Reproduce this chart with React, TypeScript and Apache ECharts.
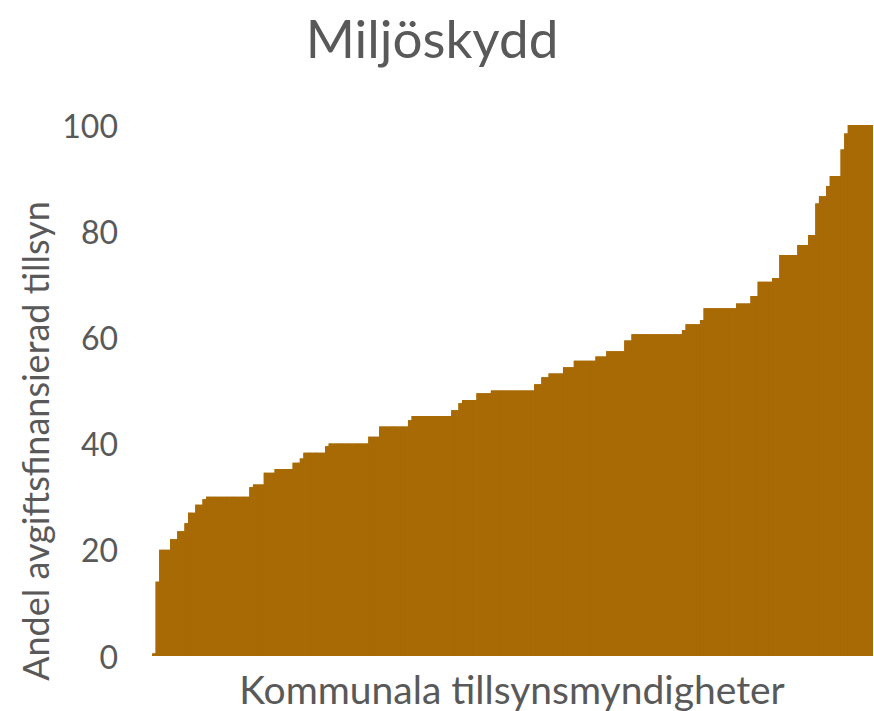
import React, { useEffect, useRef } from "react";
import * as echarts from "echarts";

const title = "Miljöskydd";
const xAxisName = "Kommunala tillsynsmyndigheter";
const yAxisName = "Andel avgiftsfinansierad tillsyn";
const yTicks = [0, 20, 40, 60, 80, 100];

// Share of fee-financed supervision per municipal authority, sorted ascending
const shares: number[] = [
  0.5, 14, 20, 20, 20, 22, 22, 23.5, 23.5, 25,
  27, 27, 28.5, 28.5, 29.5, 30, 30, 30, 30, 30,
  30, 30, 30, 30, 30, 30, 30, 31.8, 32.3, 32.3,
  32.3, 34.5, 34.5, 34.5, 35.2, 35.2, 35.2, 35.2, 35.2, 36.4,
  36.4, 37.2, 38.3, 38.3, 38.3, 38.3, 38.3, 38.3, 39.5, 40,
  40, 40, 40, 40, 40, 40, 40, 40, 40, 40,
  41.3, 41.3, 41.3, 43.2, 43.2, 43.2, 43.2, 43.2, 43.2, 43.2,
  43.2, 44.4, 45.2, 45.2, 45.2, 45.2, 45.2, 45.2, 45.2, 45.2,
  45.2, 45.2, 45.2, 46.3, 46.3, 47.6, 48.2, 48.2, 48.2, 48.2,
  49.5, 49.5, 49.5, 49.5, 50, 50, 50, 50, 50, 50,
  50, 50, 50, 50, 50, 50, 51.2, 51.2, 52.5, 52.5,
  53.2, 53.2, 53.2, 53.2, 54.4, 54.4, 54.4, 55.6, 55.6, 55.6,
  55.6, 55.6, 55.6, 56.4, 56.4, 56.4, 57.4, 57.4, 57.4, 57.4,
  57.4, 59.4, 59.4, 60.6, 60.6, 60.6, 60.6, 60.6, 60.6, 60.6,
  60.6, 60.6, 60.6, 60.6, 60.6, 60.6, 60.6, 61.4, 62.5, 62.5,
  62.5, 62.5, 63.3, 65.5, 65.5, 65.5, 65.5, 65.5, 65.5, 65.5,
  65.5, 65.5, 66.4, 66.4, 66.4, 66.4, 67.8, 67.8, 70.5, 70.5,
  70.5, 70.5, 71.2, 71.2, 75.5, 75.5, 75.5, 75.5, 75.5, 77.4,
  77.4, 77.4, 79.3, 79.3, 85.2, 86.6, 86.6, 88.5, 90.4, 90.4,
  90.4, 95.4, 98.4, 100, 100, 100, 100, 100, 100, 100,
];

const authorities: string[] = shares.map((_, i) => `Myndighet ${i + 1}`);

const TEXT = "#595959";
const BAR = "#A86A05";
const FONT = "Lato, 'Noto Sans', sans-serif";

export default function App() {
  const ref = useRef<HTMLDivElement>(null);
  useEffect(() => {
    if (!ref.current) return;
    const chart = echarts.init(ref.current, undefined, { renderer: "svg" });
    chart.setOption({
      animation: false,
      backgroundColor: "#ffffff",
      grid: { left: 152, right: 1, top: 125, bottom: 55, containLabel: false },
      xAxis: {
        type: "category",
        data: authorities,
        axisLine: { show: false },
        axisTick: { show: false },
        axisLabel: { show: false },
        splitLine: { show: false },
      },
      yAxis: {
        type: "value",
        min: yTicks[0],
        max: yTicks[yTicks.length - 1],
        interval: 20,
        axisLine: { show: false },
        axisTick: { show: false },
        splitLine: { show: false },
        axisLabel: {
          color: TEXT,
          fontSize: 32,
          fontFamily: FONT,
          margin: 34,
        },
      },
      series: [
        {
          // backing fill so that no hairline seams show between adjacent bars
          type: "line",
          data: shares,
          step: "middle",
          showSymbol: false,
          silent: true,
          z: 1,
          lineStyle: { width: 0, color: BAR },
          areaStyle: { color: BAR, opacity: 1 },
          emphasis: { disabled: true },
        },
        {
          type: "bar",
          data: shares,
          barCategoryGap: "0%",
          barGap: "0%",
          barWidth: "100%",
          z: 2,
          itemStyle: { color: BAR },
          emphasis: { disabled: true },
        },
      ],
      graphic: [
        {
          type: "text",
          x: 432,
          y: 37,
          style: {
            text: title,
            fill: TEXT,
            fontSize: 53,
            fontFamily: FONT,
            align: "center",
            verticalAlign: "middle",
          },
        },
        {
          type: "text",
          x: 512,
          y: 689,
          style: {
            text: xAxisName,
            fill: TEXT,
            fontSize: 39,
            fontFamily: FONT,
            align: "center",
            verticalAlign: "middle",
          },
        },
        {
          type: "text",
          x: 35,
          y: 441,
          rotation: Math.PI / 2,
          style: {
            text: yAxisName,
            fill: TEXT,
            fontSize: 36,
            fontFamily: FONT,
            align: "center",
            verticalAlign: "middle",
          },
        },
      ],
    });
    return () => chart.dispose();
  }, []);
  return (
    <div
      ref={ref}
      style={{ position: "absolute", left: 0, top: 0, width: 874, height: 711 }}
    />
  );
}
